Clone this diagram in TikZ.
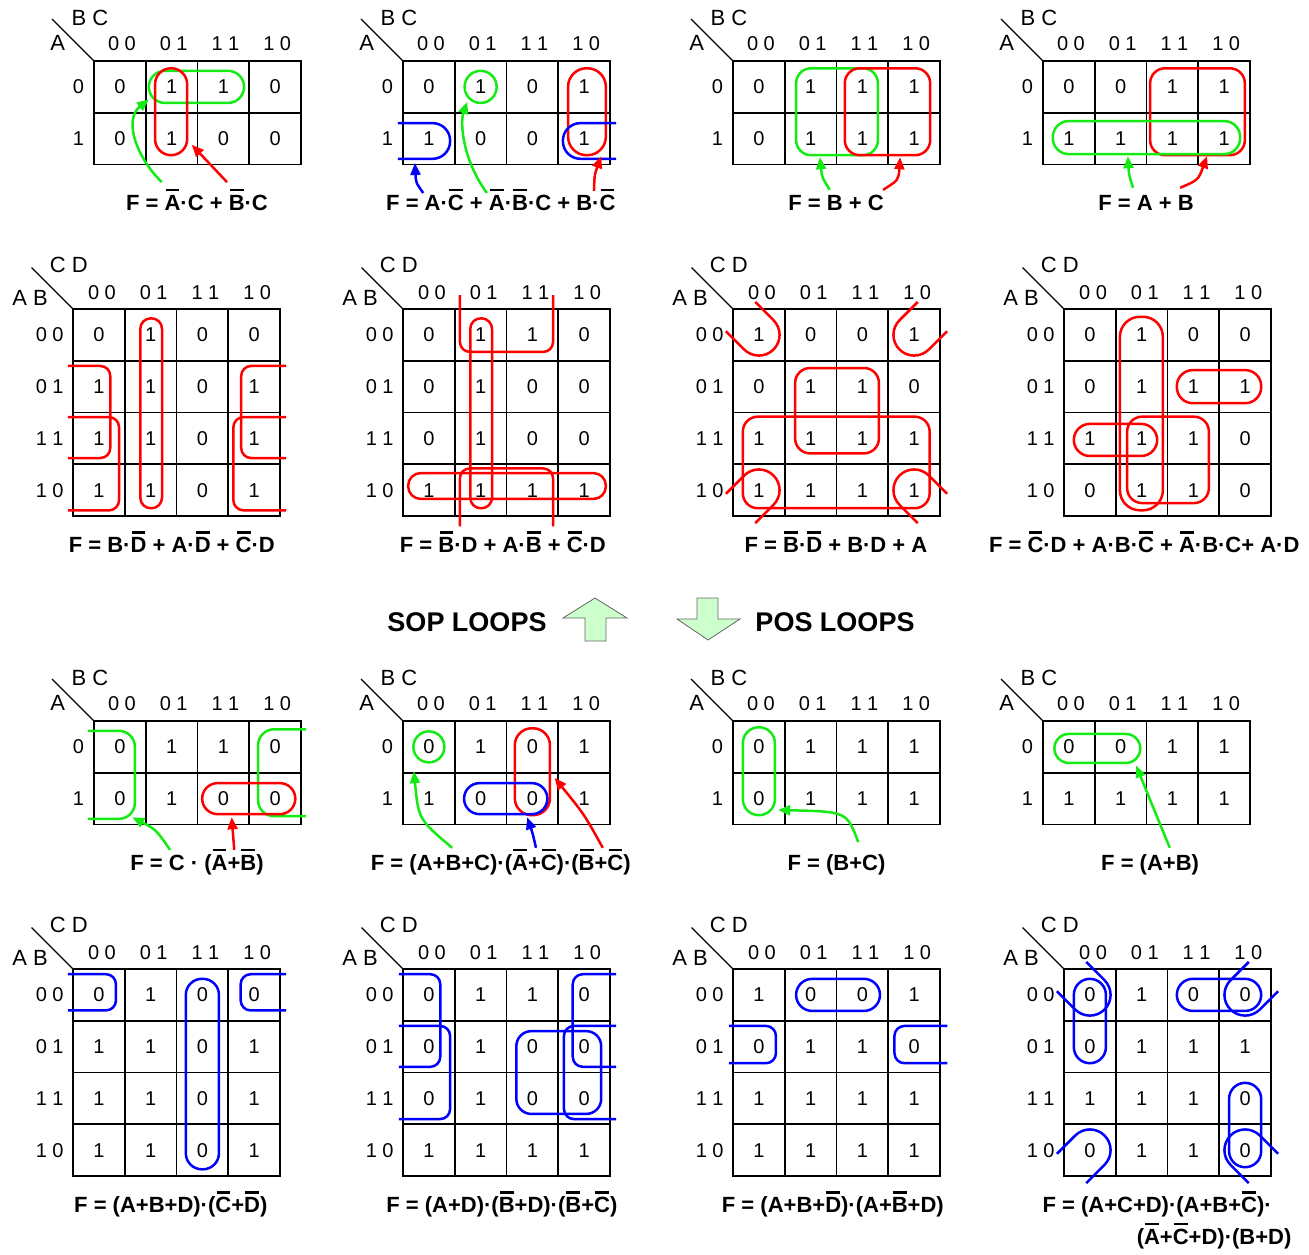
\documentclass[tikz,border=0pt]{standalone}
\usepackage{fontspec}
\setmainfont{Liberation Sans}
\usetikzlibrary{arrows.meta,calc}
\definecolor{LoopRed}{RGB}{255,0,0}
\definecolor{LoopGreen}{RGB}{20,235,20}
\definecolor{LoopBlue}{RGB}{0,0,255}
\definecolor{ArrowFill}{RGB}{204,255,204}

% bar over a letter (complement)
\newcommand{\negl}[1]{\setbox0=\hbox{#1}\rlap{\hspace{0.05em}\rule[0.87em]{\dimexpr\wd0-0.1em\relax}{0.11em}}\box0\relax}

\tikzset{
	gridline/.style={line width=1.6pt},
	diagline/.style={line width=1.3pt},
	cellval/.style={inner sep=0pt, font=\fontsize{20}{24}\selectfont},
	varname/.style={inner sep=0pt, font=\fontsize{22}{26}\selectfont},
	formula/.style={inner sep=0pt, anchor=base, font=\fontsize{22}{26}\selectfont\bfseries},
	heading/.style={inner sep=0pt, font=\fontsize{27}{32}\selectfont\bfseries},
	rloop/.style={draw=LoopRed, line width=2.5pt},
	gloop/.style={draw=LoopGreen, line width=2.5pt},
	bloop/.style={draw=LoopBlue, line width=2.5pt},
	looparrow/.style={line width=2.5pt, -{Triangle[length=12pt,width=10pt]}},
	bigarrow/.style={fill=ArrowFill, draw=black!60, line width=0.8pt}
}

% 3-variable map: name, row A=0, row A=1
\newcommand{\mapthree}[3]{%
	\draw[diagline] (0,0) -- (-0.81,-0.81);
	\node[varname] (#1-top) at (-0.08,-0.83) {B C};
	\node[varname] (#1-side) at (-0.7,-0.35) {A};
	\foreach \lab [count=\c from 0] in {0 0,0 1,1 1,1 0}
		\node[cellval] (#1-col\c) at (\c+0.54,-0.34) {\lab};
	\foreach \lab [count=\r from 0] in {0,1}
		\node[cellval] (#1-row\r) at (-0.3,\r+0.5) {\lab};
	\draw[gridline] (0,0) rectangle (4,2);
	\foreach \i in {1,2,3} \draw[gridline] (\i,0) -- (\i,2);
	\draw[gridline] (0,1) -- (4,1);
	\foreach \v [count=\c from 0] in {#2}
		\node[cellval] (#1-0-\c) at (\c+0.5,0.5) {\v};
	\foreach \v [count=\c from 0] in {#3}
		\node[cellval] (#1-1-\c) at (\c+0.5,1.5) {\v};
}

% 4-variable map: name, rows AB=00,01,11,10
\newcommand{\mapfour}[5]{%
	\draw[diagline] (0,0) -- (-0.8,-0.8);
	\node[varname] (#1-top) at (-0.08,-0.85) {C D};
	\node[varname] (#1-side) at (-0.83,-0.21) {A B};
	\foreach \lab [count=\c from 0] in {0 0,0 1,1 1,1 0}
		\node[cellval] (#1-col\c) at (\c+0.56,-0.31) {\lab};
	\foreach \lab [count=\r from 0] in {0 0,0 1,1 1,1 0}
		\node[cellval] (#1-row\r) at (-0.45,\r+0.5) {\lab};
	\draw[gridline] (0,0) rectangle (4,4);
	\foreach \i in {1,2,3} {
		\draw[gridline] (\i,0) -- (\i,4);
		\draw[gridline] (0,\i) -- (4,\i);
	}
	\foreach \vals [count=\r from 0] in {{#2},{#3},{#4},{#5}}
		\foreach \v [count=\c from 0] in \vals
			\node[cellval] (#1-\r-\c) at (\c+0.5,\r+0.5) {\v};
}

% loop round a corner cell, open towards the outer corner
\newcommand{\cornerloop}[3]{\draw[#1] (#2) ++(#3+90:0.4) ++(#3:0.5) -- ++(#3+180:0.5) arc[start angle=#3+90, end angle=#3+270, radius=0.4] -- ++(#3:0.5);}

\begin{document}
\begin{tikzpicture}[x=1pt, y=-1pt]
	\useasboundingbox (0,0) rectangle (1309,1254);

	%%% SOP, three variables
	\begin{scope}[shift={(94,61)}, x=51.75pt, y=-51.75pt]
		\mapthree{k1}{0,1,1,0}{0,1,0,0}
		\draw[gloop, rounded corners=16pt] (1.06,0.19) rectangle (2.9,0.81);
		\draw[rloop, rounded corners=16pt] (1.18,0.14) rectangle (1.8,1.82);
		\node[formula] (f1) at (1.99,2.89) {F = \negl{A}·C + \negl{B}·C};
		\coordinate (f1g) at (1.31,2.34);
		\coordinate (f1r) at (2.57,2.34);
		\coordinate (l1g) at (1.06,0.74);
		\coordinate (l1r) at (1.89,1.62);
		\draw[looparrow, LoopGreen] (f1g) .. controls (0.85,1.9) and (0.55,1.15) .. (l1g);
		\draw[looparrow, LoopRed] (f1r) -- (l1r);
	\end{scope}

	\begin{scope}[shift={(403,61)}, x=51.75pt, y=-51.75pt]
		\mapthree{k2}{0,1,0,1}{1,0,0,1}
		\draw[gloop] (k2-0-1) circle[radius=0.31];
		\draw[rloop, rounded corners=18.5pt] (3.19,0.14) rectangle (3.92,1.82);
		\draw[bloop, rounded corners=17.5pt] (-0.1,1.2) -- (0.91,1.2) -- (0.91,1.89) -- (-0.1,1.89);
		\draw[bloop, rounded corners=17.5pt] (4.12,1.2) -- (3.09,1.2) -- (3.09,1.89) -- (4.12,1.89);
		\node[formula] (f2) at (1.89,2.89) {F = A·\negl{C} + \negl{A}·\negl{B}·C + B·\negl{C}};
		\coordinate (f2b) at (0.39,2.55);
		\coordinate (f2g) at (1.62,2.55);
		\coordinate (f2r) at (3.69,2.51);
		\coordinate (l2b) at (0.23,1.97);
		\coordinate (l2g) at (1.24,0.79);
		\coordinate (l2r) at (3.83,1.84);
		\draw[looparrow, LoopBlue] (f2b) .. controls (0.25,2.35) .. (l2b);
		\draw[looparrow, LoopGreen] (f2g) .. controls (1.15,1.9) and (1.1,1.2) .. (l2g);
		\draw[looparrow, LoopRed] (f2r) .. controls (3.7,2.2) .. (l2r);
	\end{scope}

	\begin{scope}[shift={(733,61)}, x=51.75pt, y=-51.75pt]
		\mapthree{k3}{0,1,1,1}{0,1,1,1}
		\draw[gloop, rounded corners=15pt] (1.22,0.14) rectangle (2.8,1.82);
		\draw[rloop, rounded corners=15pt] (2.16,0.14) rectangle (3.81,1.82);
		\node[formula] (f3) at (1.99,2.89) {F = B + C};
		\coordinate (f3g) at (1.87,2.49);
		\coordinate (f3r) at (2.9,2.49);
		\coordinate (l3g) at (1.68,1.86);
		\coordinate (l3r) at (3.23,1.86);
		\draw[looparrow, LoopGreen] (f3g) .. controls (1.72,2.25) .. (l3g);
		\draw[looparrow, LoopRed] (f3r) .. controls (3.2,2.3) .. (l3r);
	\end{scope}

	\begin{scope}[shift={(1043,61)}, x=51.75pt, y=-51.75pt]
		\mapthree{k4}{0,0,1,1}{1,1,1,1}
		\draw[rloop, rounded corners=15pt] (2.07,0.14) rectangle (3.9,1.82);
		\draw[gloop, rounded corners=16pt] (0.19,1.16) rectangle (3.81,1.8);
		\node[formula] (f4) at (1.99,2.89) {F = A + B};
		\coordinate (f4g) at (1.74,2.45);
		\coordinate (f4r) at (2.65,2.45);
		\coordinate (l4g) at (1.64,1.84);
		\coordinate (l4r) at (3.17,1.84);
		\draw[looparrow, LoopGreen] (f4g) .. controls (1.66,2.2) .. (l4g);
		\draw[looparrow, LoopRed] (f4r) .. controls (3.0,2.3) .. (l4r);
	\end{scope}

	%%% SOP, four variables
	\begin{scope}[shift={(73,309)}, x=51.75pt, y=-51.75pt]
		\mapfour{k5}{0,1,0,0}{1,1,0,1}{1,1,0,1}{1,1,0,1}
		\draw[rloop, rounded corners=10.5pt] (1.3,0.18) rectangle (1.72,3.85);
		\draw[rloop, rounded corners=10pt] (-0.1,1.1) -- (0.72,1.1) -- (0.72,2.88) -- (-0.1,2.88);
		\draw[rloop, rounded corners=10pt] (4.12,1.1) -- (3.25,1.1) -- (3.25,2.88) -- (4.12,2.88);
		\draw[rloop, rounded corners=10pt] (-0.1,2.09) -- (0.89,2.09) -- (0.89,3.89) -- (-0.1,3.89);
		\draw[rloop, rounded corners=10pt] (4.12,2.09) -- (3.1,2.09) -- (3.1,3.89) -- (4.12,3.89);
		\node[formula] (f5) at (1.91,4.71) {F = B·\negl{D} + A·\negl{D} + \negl{C}·D};
	\end{scope}

	\begin{scope}[shift={(403,309)}, x=51.75pt, y=-51.75pt]
		\mapfour{k6}{0,1,1,0}{0,1,0,0}{0,1,0,0}{1,1,1,1}
		\draw[rloop, rounded corners=10.5pt] (1.3,0.18) rectangle (1.72,3.85);
		\draw[rloop, rounded corners=12.5pt] (0.1,3.17) rectangle (3.92,3.67);
		\draw[rloop, rounded corners=10pt] (1.1,-0.27) -- (1.1,0.83) -- (2.9,0.83) -- (2.9,-0.27);
		\draw[rloop, rounded corners=10pt] (1.1,4.2) -- (1.1,3.08) -- (2.9,3.08) -- (2.9,4.2);
		\node[formula] (f6) at (1.93,4.71) {F = \negl{B}·D + A·\negl{B} + \negl{C}·D};
	\end{scope}

	\begin{scope}[shift={(733,309)}, x=51.75pt, y=-51.75pt]
		\mapfour{k7}{1,0,0,1}{0,1,1,0}{1,1,1,1}{1,1,1,1}
		\draw[rloop, rounded corners=15pt] (1.2,1.14) rectangle (2.82,2.79);
		\draw[rloop, rounded corners=15pt] (0.19,2.08) rectangle (3.8,3.85);
		\cornerloop{rloop}{k7-0-0}{225}
		\cornerloop{rloop}{k7-0-3}{315}
		\cornerloop{rloop}{k7-3-0}{135}
		\cornerloop{rloop}{k7-3-3}{45}
		\node[formula] (f7) at (1.99,4.71) {F = \negl{B}·\negl{D} + B·D + A};
	\end{scope}

	\begin{scope}[shift={(1064,309)}, x=51.75pt, y=-51.75pt]
		\mapfour{k8}{0,1,0,0}{0,1,1,1}{1,1,1,0}{0,1,1,0}
		\draw[rloop, rounded corners=20pt] (1.08,0.15) rectangle (1.91,3.89);
		\draw[rloop, rounded corners=16pt] (2.18,1.18) rectangle (3.81,1.82);
		\draw[rloop, rounded corners=16pt] (0.19,2.22) rectangle (1.8,2.84);
		\draw[rloop, rounded corners=15pt] (1.22,2.08) rectangle (2.8,3.75);
		\node[formula] (f8) at (1.55,4.71) {F = \negl{C}·D + A·B·\negl{C} + \negl{A}·B·C+ A·D};
	\end{scope}

	%%% middle headings
	\node[heading] (sop) at (467,622) {SOP LOOPS};
	\node[heading] (pos) at (835,622) {POS LOOPS};
	\draw[bigarrow] (595,598) -- (627,618) -- (606,618) -- (606,641) -- (585,641) -- (585,618) -- (563,618) -- cycle;
	\draw[bigarrow] (708,640) -- (740,619) -- (718,619) -- (718,598) -- (697,598) -- (697,619) -- (677,619) -- cycle;

	%%% POS, three variables
	\begin{scope}[shift={(94,721)}, x=51.75pt, y=-51.75pt]
		\mapthree{k9}{0,1,1,0}{0,1,0,0}
		\draw[gloop, rounded corners=16pt] (-0.12,0.19) -- (0.79,0.19) -- (0.79,1.89) -- (-0.12,1.89);
		\draw[gloop, rounded corners=16pt] (4.1,0.16) -- (3.17,0.16) -- (3.17,1.84) -- (4.1,1.84);
		\draw[rloop, rounded corners=15.5pt] (2.09,1.2) rectangle (3.89,1.8);
		\node[formula] (f9) at (1.99,2.89) {F = C · (\negl{A}+\negl{B})};
		\coordinate (f9g) at (1.47,2.49);
		\coordinate (f9r) at (2.71,2.49);
		\coordinate (l9g) at (0.74,1.86);
		\coordinate (l9r) at (2.66,1.86);
		\draw[looparrow, LoopGreen] (f9g) .. controls (1.2,2.1) .. (l9g);
		\draw[looparrow, LoopRed] (f9r) -- (l9r);
	\end{scope}

	\begin{scope}[shift={(403,721)}, x=51.75pt, y=-51.75pt]
		\mapthree{k10}{0,1,0,1}{1,0,0,1}
		\draw[gloop] (k10-0-0) circle[radius=0.3];
		\draw[rloop, rounded corners=17pt] (2.16,0.14) rectangle (2.84,1.82);
		\draw[bloop, rounded corners=15.5pt] (1.18,1.2) rectangle (2.79,1.8);
		\node[formula] (f10) at (1.89,2.89) {F = (A+B+C)·(\negl{A}+\negl{C})·(\negl{B}+\negl{C})};
		\coordinate (f10g) at (0.95,2.45);
		\coordinate (f10b) at (2.57,2.45);
		\coordinate (f10r) at (3.86,2.45);
		\coordinate (l10g) at (0.21,0.97);
		\coordinate (l10b) at (2.4,1.86);
		\coordinate (l10r) at (2.93,1.1);
		\draw[looparrow, LoopGreen] (f10g) .. controls (0.3,1.9) .. (l10g);
		\draw[looparrow, LoopBlue] (f10b) .. controls (2.5,2.15) .. (l10b);
		\draw[looparrow, LoopRed] (f10r) .. controls (3.5,1.8) .. (l10r);
	\end{scope}

	\begin{scope}[shift={(733,721)}, x=51.75pt, y=-51.75pt]
		\mapthree{k11}{0,1,1,1}{0,1,1,1}
		\draw[gloop, rounded corners=16pt] (0.19,0.12) rectangle (0.81,1.82);
		\node[formula] (f11) at (2.0,2.89) {F = (B+C)};
		\coordinate (f11g) at (2.42,2.34);
		\coordinate (l11g) at (0.87,1.72);
		\draw[looparrow, LoopGreen] (f11g) .. controls (2.2,1.75) .. (l11g);
	\end{scope}

	\begin{scope}[shift={(1043,721)}, x=51.75pt, y=-51.75pt]
		\mapthree{k12}{0,0,1,1}{1,1,1,1}
		\draw[gloop, rounded corners=14.5pt] (0.22,0.25) rectangle (1.88,0.81);
		\node[formula] (f12) at (2.07,2.89) {F = (A+B)};
		\coordinate (f12g) at (2.45,2.45);
		\coordinate (l12g) at (1.8,0.86);
		\draw[looparrow, LoopGreen] (f12g) .. controls (2.1,1.6) .. (l12g);
	\end{scope}

	%%% POS, four variables
	\begin{scope}[shift={(73,969)}, x=51.75pt, y=-51.75pt]
		\mapfour{k13}{0,1,0,0}{1,1,0,1}{1,1,0,1}{1,1,0,1}
		\draw[bloop, rounded corners=16pt] (2.18,0.19) rectangle (2.82,3.87);
		\draw[bloop, rounded corners=10pt] (-0.1,0.1) -- (0.83,0.1) -- (0.83,0.8) -- (-0.1,0.8);
		\draw[bloop, rounded corners=10pt] (4.12,0.1) -- (3.24,0.1) -- (3.24,0.8) -- (4.12,0.8);
		\node[formula] (f13) at (1.89,4.71) {F = (A+B+D)·(\negl{C}+\negl{D})};
	\end{scope}

	\begin{scope}[shift={(403,969)}, x=51.75pt, y=-51.75pt]
		\mapfour{k14}{0,1,1,0}{0,1,0,0}{0,1,0,0}{1,1,1,1}
		\draw[bloop, rounded corners=10pt] (-0.08,0.1) -- (0.72,0.1) -- (0.72,1.89) -- (-0.08,1.89);
		\draw[bloop, rounded corners=10pt] (4.12,0.1) -- (3.28,0.1) -- (3.28,1.89) -- (4.12,1.89);
		\draw[bloop, rounded corners=10pt] (-0.08,1.1) -- (0.91,1.1) -- (0.91,2.9) -- (-0.08,2.9);
		\draw[bloop, rounded corners=10pt] (4.12,1.1) -- (3.11,1.1) -- (3.11,2.9) -- (4.12,2.9);
		\draw[bloop, rounded corners=15pt] (2.19,1.2) rectangle (3.83,2.8);
		\node[formula] (f14) at (1.91,4.71) {F = (A+D)·(\negl{B}+D)·(\negl{B}+\negl{C})};
	\end{scope}

	\begin{scope}[shift={(733,969)}, x=51.75pt, y=-51.75pt]
		\mapfour{k15}{1,0,0,1}{0,1,1,0}{1,1,1,1}{1,1,1,1}
		\draw[bloop, rounded corners=16pt] (1.22,0.19) rectangle (2.84,0.81);
		\draw[bloop, rounded corners=10pt] (-0.08,1.1) -- (0.83,1.1) -- (0.83,1.82) -- (-0.08,1.82);
		\draw[bloop, rounded corners=10pt] (4.14,1.1) -- (3.12,1.1) -- (3.12,1.82) -- (4.14,1.82);
		\node[formula] (f15) at (1.93,4.71) {F = (A+B+\negl{D})·(A+\negl{B}+D)};
	\end{scope}

	\begin{scope}[shift={(1064,969)}, x=51.75pt, y=-51.75pt]
		\mapfour{k16}{0,1,0,0}{0,1,1,1}{1,1,1,0}{0,1,1,0}
		\draw[bloop, rounded corners=16pt] (0.19,0.19) rectangle (0.81,1.82);
		\draw[bloop, rounded corners=16pt] (2.18,0.19) rectangle (3.81,0.81);
		\draw[bloop, rounded corners=16pt] (3.19,2.2) rectangle (3.81,3.83);
		\cornerloop{bloop}{k16-0-0}{225}
		\cornerloop{bloop}{k16-0-3}{315}
		\cornerloop{bloop}{k16-3-0}{135}
		\cornerloop{bloop}{k16-3-3}{45}
		\node[formula] (f16a) at (1.8,4.71) {F = (A+C+D)·(A+B+\negl{C})·};
		\node[formula] (f16b) at (2.9,5.32) {(\negl{A}+\negl{C}+D)·(B+D)};
	\end{scope}
\end{tikzpicture}
\end{document}
